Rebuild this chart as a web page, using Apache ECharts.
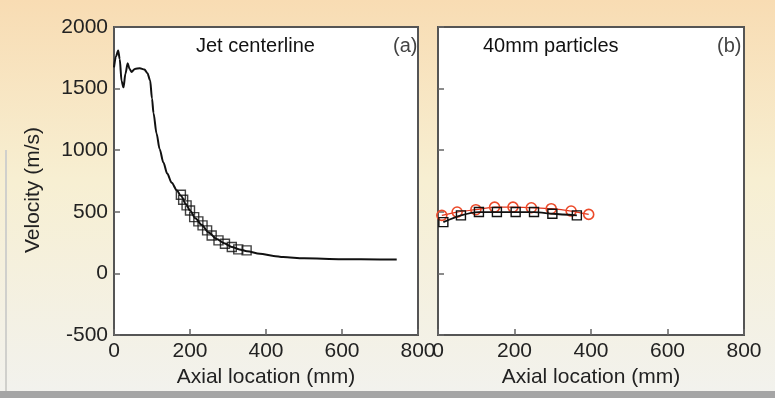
<!DOCTYPE html>
<html>
<head>
<meta charset="utf-8">
<script src="https://cdn.jsdelivr.net/npm/echarts@6/dist/echarts.min.js"></script>
<style>html,body{margin:0;padding:0;}#c{width:775px;height:398px;}</style>
</head>
<body>
<div id="c"></div>
<script>
// Panel (a): jet centerline velocity (simulation curve)
const jetX = [0,5,11,15,20,25,30,36,41,46,55,68,80,88,95,100,104,112,120,130,140,152,165,176,190,200,215,230,250,270,290,310,330,350,384,420,445,500,600,700,744];
const jetV = [1672,1760,1810,1740,1560,1510,1620,1705,1660,1635,1660,1665,1655,1625,1567,1420,1300,1136,1010,900,810,735,675,630,560,510,445,395,330,280,245,215,195,180,160,142,133,122,115,113,113];
// Panel (a): measured points (squares)
const jetSqX = [176,182,191,200,211,222,233,245,257,275,292,310,327,349];
const jetSqV = [639,598,552,511,457,422,390,349,308,268,241,214,195,187];
// Panel (b): 40mm particles
const circX = [10,50,99,148,196,244,296,348,394];
const circV = [471,498,517,538,538,533,525,506,479];
const sqX = [14,60,107,154,203,251,299,363];
const sqV = [416,471,498,498,498,498,484,471];

const xMin = 0, xMax = 800, xStep = 200;
const yMin = -500, yMax = 2000, yStep = 500;
const panelTitles = ['Jet centerline', '40mm particles'];
const panelTags = ['(a)', '(b)'];
const yName = 'Velocity (m/s)';
const xName = 'Axial location (mm)';

const zip = (a, b) => a.map((v, i) => [v, b[i]]);
const FONT = 'Liberation Sans, Arial, sans-serif';

function xAxis(idx) {
  return {
    gridIndex: idx, type: 'value', min: xMin, max: xMax, interval: xStep,
    name: xName, nameLocation: 'middle', nameGap: 32,
    nameTextStyle: {fontSize: 21, color: '#222', fontFamily: FONT},
    axisLine: {show: true, onZero: false, lineStyle: {color: '#555', width: 2}},
    axisTick: {inside: true, length: 6, lineStyle: {color: '#666', width: 1.5}},
    axisLabel: {fontSize: 21, color: '#222', fontFamily: FONT, margin: 6, formatter: v => String(v)},
    splitLine: {show: false}
  };
}
function yAxis(idx, labels) {
  return {
    gridIndex: idx, type: 'value', min: yMin, max: yMax, interval: yStep,
    name: labels ? yName : '', nameLocation: 'middle', nameGap: 70,
    nameTextStyle: {fontSize: 21, color: '#222', fontFamily: FONT, padding: [0, 18, 0, 0]},
    axisLine: {show: true, onZero: false, lineStyle: {color: '#555', width: 2}},
    axisTick: {inside: true, length: 6, lineStyle: {color: '#666', width: 1.5}},
    axisLabel: {show: labels, fontSize: 21, color: '#222', fontFamily: FONT, margin: 6, formatter: v => String(v)},
    splitLine: {show: false}
  };
}

const chart = echarts.init(document.getElementById('c'), null, {renderer: 'canvas'});
chart.setOption({
  animation: false,
  backgroundColor: new echarts.graphic.LinearGradient(0, 0, 0, 1, [
    {offset: 0, color: '#f8dcb3'},
    {offset: 0.45, color: '#f7efd2'},
    {offset: 1, color: '#f2f2ee'}
  ]),
  graphic: [
    {type: 'rect', shape: {x: 0, y: 391, width: 775, height: 7}, style: {fill: '#a5a5a5'}, z: -1},
    {type: 'rect', shape: {x: 5, y: 150, width: 2, height: 241}, style: {fill: '#d0d0cc'}, z: -1}
  ],
  title: [
    {text: panelTitles[0], left: 191, top: 31, textStyle: {fontSize: 20, fontWeight: 'normal', color: '#111', fontFamily: FONT}},
    {text: panelTags[0], left: 388, top: 31, textStyle: {fontSize: 20, fontWeight: 'normal', color: '#444', fontFamily: FONT}},
    {text: panelTitles[1], left: 478, top: 31, textStyle: {fontSize: 20, fontWeight: 'normal', color: '#111', fontFamily: FONT}},
    {text: panelTags[1], left: 712, top: 31, textStyle: {fontSize: 20, fontWeight: 'normal', color: '#444', fontFamily: FONT}}
  ],
  grid: [
    {left: 114, top: 27, width: 304, height: 308, show: true, backgroundColor: '#ffffff', borderColor: '#555', borderWidth: 2},
    {left: 438, top: 27, width: 306, height: 308, show: true, backgroundColor: '#ffffff', borderColor: '#555', borderWidth: 2}
  ],
  xAxis: [xAxis(0), xAxis(1)],
  yAxis: [yAxis(0, true), yAxis(1, false)],
  series: [
    {type: 'line', xAxisIndex: 0, yAxisIndex: 0, data: zip(jetX, jetV), showSymbol: false, smooth: 0.3, smoothMonotone: 'x',
     lineStyle: {color: '#111', width: 2}, z: 2},
    {type: 'scatter', xAxisIndex: 0, yAxisIndex: 0, data: zip(jetSqX, jetSqV), symbol: 'rect', symbolSize: 9,
     itemStyle: {color: 'rgba(255,255,255,0)', borderColor: '#111', borderWidth: 1.4}, z: 3},
    {type: 'line', xAxisIndex: 1, yAxisIndex: 1, data: zip(circX, circV), smooth: 0.3, symbol: 'circle', symbolSize: 10,
     lineStyle: {color: '#e0341c', width: 1.2},
     itemStyle: {color: 'rgba(255,255,255,0)', borderColor: '#ec4a2a', borderWidth: 1.6}, z: 2},
    {type: 'line', xAxisIndex: 1, yAxisIndex: 1, data: zip(sqX, sqV), smooth: 0.3, symbol: 'rect', symbolSize: 9,
     lineStyle: {color: '#111', width: 1.8},
     itemStyle: {color: 'rgba(255,255,255,0)', borderColor: '#111', borderWidth: 1.4}, z: 3}
  ]
});
</script>
</body>
</html>
